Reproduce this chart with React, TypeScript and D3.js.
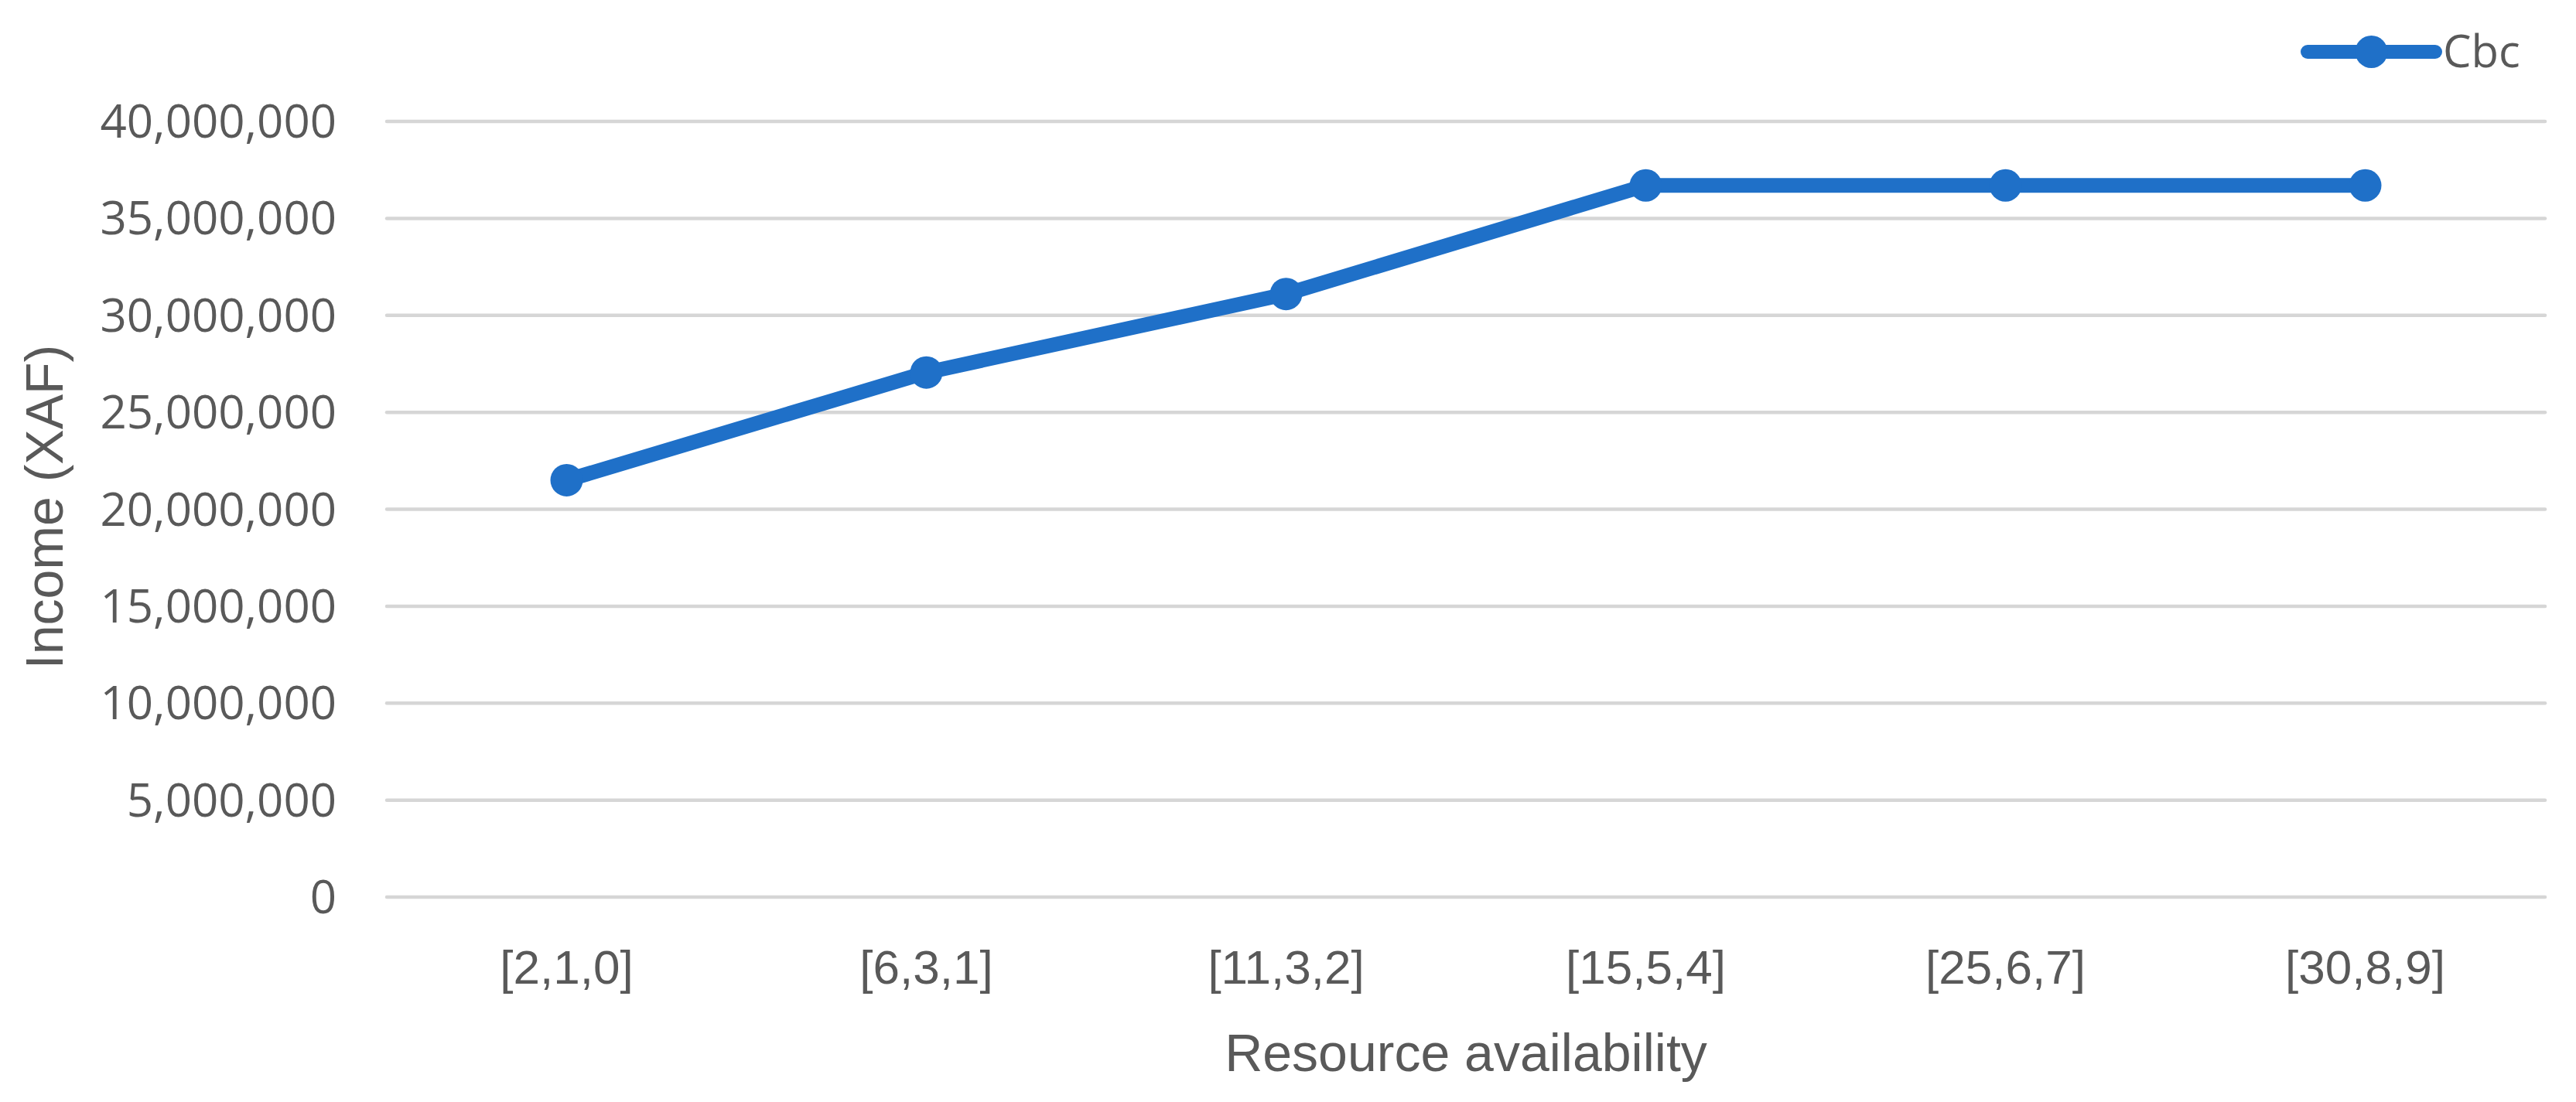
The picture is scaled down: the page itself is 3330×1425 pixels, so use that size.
import React from 'react';
import * as d3 from 'd3';

// categories along the x axis (resource availability triples)
const categories = ['[2,1,0]', '[6,3,1]', '[11,3,2]', '[15,5,4]', '[25,6,7]', '[30,8,9]'];

// income values for the Cbc series (XAF)
const cbcValues = [21500000, 27050000, 31100000, 36700000, 36700000, 36700000];

// y tick values
const yTicks = [0, 5000000, 10000000, 15000000, 20000000, 25000000, 30000000, 35000000, 40000000];

const seriesName = 'Cbc';
const xTitle = 'Resource availability';
const yTitle = 'Income (XAF)';

const App = () => {
  const width = 3330;
  const height = 1425;

  // plot area
  const left = 500;
  const right = 3290;
  const top = 157;
  const bottom = 1160;

  const lineColor = '#1f70c8';
  const textColor = '#595959';
  const gridColor = '#d6d6d6';

  const x = d3.scaleBand<string>()
    .domain(categories)
    .range([left, right])
    .padding(0);

  const cx = (c: string) => (x(c) ?? 0) + x.bandwidth() / 2;

  const y = d3.scaleLinear()
    .domain([0, 40000000])
    .range([bottom, top]);

  const fmt = d3.format(',');

  const points = categories.map((c, i) => ({ c, v: cbcValues[i] }));

  const line = d3.line<{ c: string; v: number }>()
    .x(d => cx(d.c))
    .y(d => y(d.v));

  // legend position
  const legX1 = 2983;
  const legX2 = 3148;
  const legY = 67;

  return (
    <svg
      width={width}
      height={height}
      viewBox={`0 0 ${width} ${height}`}
      style={{ position: 'absolute', left: 0, top: 0, background: '#fff' }}
    >
      <rect x={0} y={0} width={width} height={height} fill="#fff" />

      {/* horizontal gridlines */}
      <g>
        {yTicks.map(t => (
          <line
            key={t}
            x1={left}
            x2={right}
            y1={y(t)}
            y2={y(t)}
            stroke={gridColor}
            strokeWidth={4.5}
            strokeLinecap="round"
          />
        ))}
      </g>

      {/* y tick labels */}
      <g fontFamily="'Open Sans', sans-serif" fontSize={60} fill={textColor} textAnchor="end">
        {yTicks.map(t => (
          <text key={t} x={435} y={y(t)} dy="0.35em">{fmt(t)}</text>
        ))}
      </g>

      {/* x tick labels */}
      <g fontFamily="'Liberation Sans', Arial, sans-serif" fontSize={62} fill={textColor} textAnchor="middle">
        {categories.map(c => (
          <text key={c} x={cx(c)} y={1272}>{c}</text>
        ))}
      </g>

      {/* axis titles */}
      <text
        x={(left + right) / 2}
        y={1385}
        textAnchor="middle"
        fontFamily="'Liberation Sans', Arial, sans-serif"
        fontSize={68}
        fill={textColor}
      >
        {xTitle}
      </text>
      <text
        transform={`translate(81, ${(top + bottom) / 2 - 3}) rotate(-90)`}
        textAnchor="middle"
        fontFamily="'Liberation Sans', Arial, sans-serif"
        fontSize={68}
        fill={textColor}
      >
        {yTitle}
      </text>

      {/* series line */}
      <path
        d={line(points) ?? ''}
        fill="none"
        stroke={lineColor}
        strokeWidth={19}
        strokeLinejoin="round"
        strokeLinecap="round"
      />
      {points.map(p => (
        <circle key={p.c} cx={cx(p.c)} cy={y(p.v)} r={21} fill={lineColor} />
      ))}

      {/* legend */}
      <g>
        <line
          x1={legX1}
          x2={legX2}
          y1={legY}
          y2={legY}
          stroke={lineColor}
          strokeWidth={18}
          strokeLinecap="round"
        />
        <circle cx={(legX1 + legX2) / 2} cy={legY} r={21} fill={lineColor} />
        <text
          x={3158}
          y={87}
          fontFamily="'Open Sans', sans-serif"
          fontSize={58}
          fill={textColor}
        >
          {seriesName}
        </text>
      </g>
    </svg>
  );
};

export default App;
